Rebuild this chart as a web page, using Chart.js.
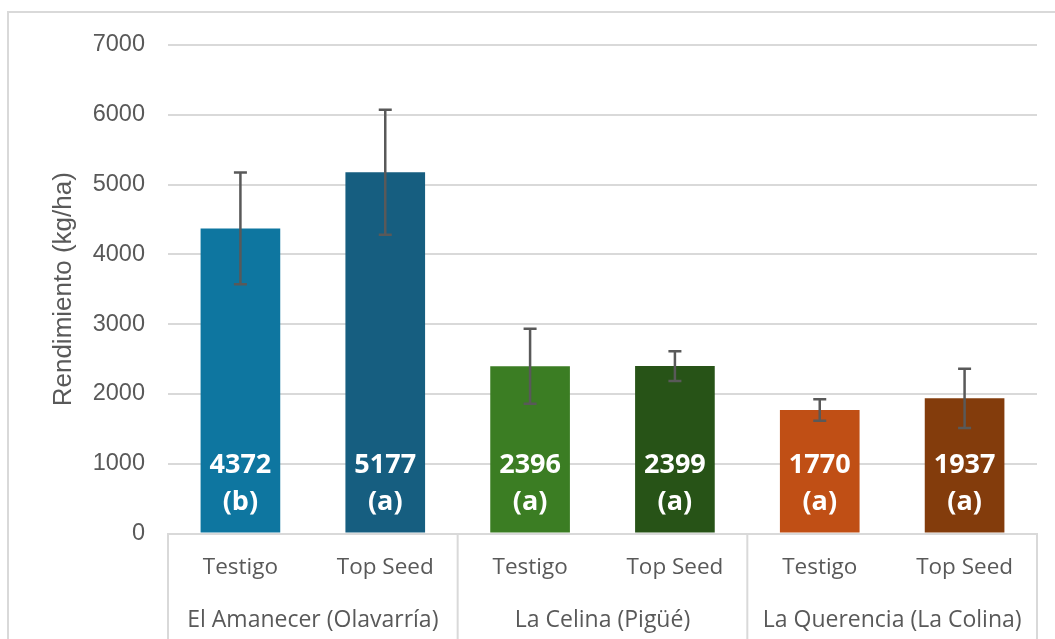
<!DOCTYPE html>
<html>
<head>
<meta charset="utf-8">
<script src="https://cdn.jsdelivr.net/npm/chart.js@4.4.1/dist/chart.umd.min.js"></script>
<style>
  html, body { margin: 0; padding: 0; background: #fff; }
  canvas { display: block; }
</style>
</head>
<body>
<canvas id="chart" width="1055" height="639"></canvas>
<script>
/* data */
const categories = ['Testigo', 'Top Seed', 'Testigo', 'Top Seed', 'Testigo', 'Top Seed'];
const groups = ['El Amanecer (Olavarría)', 'La Celina (Pigüé)', 'La Querencia (La Colina)'];
const values = [4372, 5177, 2396, 2399, 1770, 1937];
const errors = [800, 895, 537, 212, 155, 425];
const letters = ['(b)', '(a)', '(a)', '(a)', '(a)', '(a)'];
const yTicks = [0, 1000, 2000, 3000, 4000, 5000, 6000, 7000];

const barColors = ['#0E76A0', '#165E80', '#3B7D23', '#275317', '#C04F15', '#833C0C'];
const gray = '#595959';
const lineGray = '#D9D9D9';
const font = '"Open Sans", "Noto Sans", sans-serif';
const arial = '"Liberation Sans", Arial, sans-serif';

/* frame, error bars, labels in bars, group row under the axis */
const extras = {
    id: 'extras',
    beforeDraw(chart) {
        const ctx = chart.ctx;
        ctx.save();
        ctx.strokeStyle = lineGray;
        ctx.lineWidth = 2;
        ctx.beginPath();
        ctx.moveTo(8, chart.height);
        ctx.lineTo(8, 12);
        ctx.lineTo(chart.width, 12);
        ctx.stroke();
        ctx.restore();
    },
    afterDatasetsDraw(chart) {
        const ctx = chart.ctx;
        const y = chart.scales.y;
        const x = chart.scales.x;
        const bars = chart.getDatasetMeta(0).data;
        const base = y.getPixelForValue(0);
        ctx.save();
        // error bars
        ctx.strokeStyle = gray;
        ctx.lineWidth = 2.5;
        bars.forEach(function(bar, i) {
            const top = y.getPixelForValue(values[i] + errors[i]);
            const bot = y.getPixelForValue(values[i] - errors[i]);
            ctx.beginPath();
            ctx.moveTo(bar.x, top);
            ctx.lineTo(bar.x, bot);
            ctx.moveTo(bar.x - 6.5, top);
            ctx.lineTo(bar.x + 6.5, top);
            ctx.moveTo(bar.x - 6.5, bot);
            ctx.lineTo(bar.x + 6.5, bot);
            ctx.stroke();
        });
        // labels inside bars
        ctx.fillStyle = '#ffffff';
        ctx.textAlign = 'center';
        ctx.textBaseline = 'middle';
        ctx.font = 'bold 27px ' + font;
        bars.forEach(function(bar, i) {
            ctx.fillText(String(values[i]), bar.x, base - 68);
            ctx.fillText(letters[i], bar.x, base - 31);
        });
        // group separators and names
        const step = x.getPixelForValue(1) - x.getPixelForValue(0);
        ctx.strokeStyle = lineGray;
        ctx.lineWidth = 2;
        for (let g = 0; g <= groups.length; g++) {
            const sx = x.getPixelForValue(g * 2) - step / 2;
            ctx.beginPath();
            ctx.moveTo(sx, base);
            ctx.lineTo(sx, chart.height);
            ctx.stroke();
        }
        ctx.fillStyle = gray;
        ctx.font = '23px ' + font;
        groups.forEach(function(name, g) {
            const cx = (x.getPixelForValue(g * 2) + x.getPixelForValue(g * 2 + 1)) / 2;
            ctx.fillText(name, cx, base + 87);
        });
        ctx.restore();
    }
};

const ctx = document.getElementById('chart').getContext('2d');
const chart = new Chart(ctx, {
    type: 'bar',
    data: {
        labels: categories,
        datasets: [{
            data: values,
            backgroundColor: barColors,
            categoryPercentage: 1,
            barPercentage: 0.55
        }]
    },
    options: {
        responsive: false,
        animation: false,
        devicePixelRatio: 1,
        layout: {
            padding: { top: 45, right: 18, left: 0, bottom: 0 }
        },
        plugins: {
            legend: { display: false },
            tooltip: { enabled: false }
        },
        scales: {
            x: {
                grid: { display: false, drawTicks: false },
                border: { display: true, color: lineGray, width: 2 },
                ticks: {
                    color: gray,
                    padding: 21,
                    font: { family: font, size: 22.5 },
                    maxRotation: 0
                },
                afterFit(scale) { scale.height = 105.5; }
            },
            y: {
                min: 0,
                max: 7000,
                afterBuildTicks(scale) {
                    scale.ticks = yTicks.map(function(v) { return { value: v }; });
                },
                grid: { color: lineGray, lineWidth: 2, drawTicks: false },
                border: { display: false },
                ticks: {
                    color: gray,
                    padding: 23,
                    font: { family: arial, size: 23.5 },
                    callback: function(v) { return String(v); }
                },
                title: {
                    display: true,
                    text: 'Rendimiento (kg/ha)',
                    color: gray,
                    padding: { top: 48, bottom: 0 },
                    font: { family: arial, size: 26 }
                },
                afterFit(scale) { scale.width = 168; }
            }
        }
    },
    plugins: [extras]
});
</script>
</body>
</html>
